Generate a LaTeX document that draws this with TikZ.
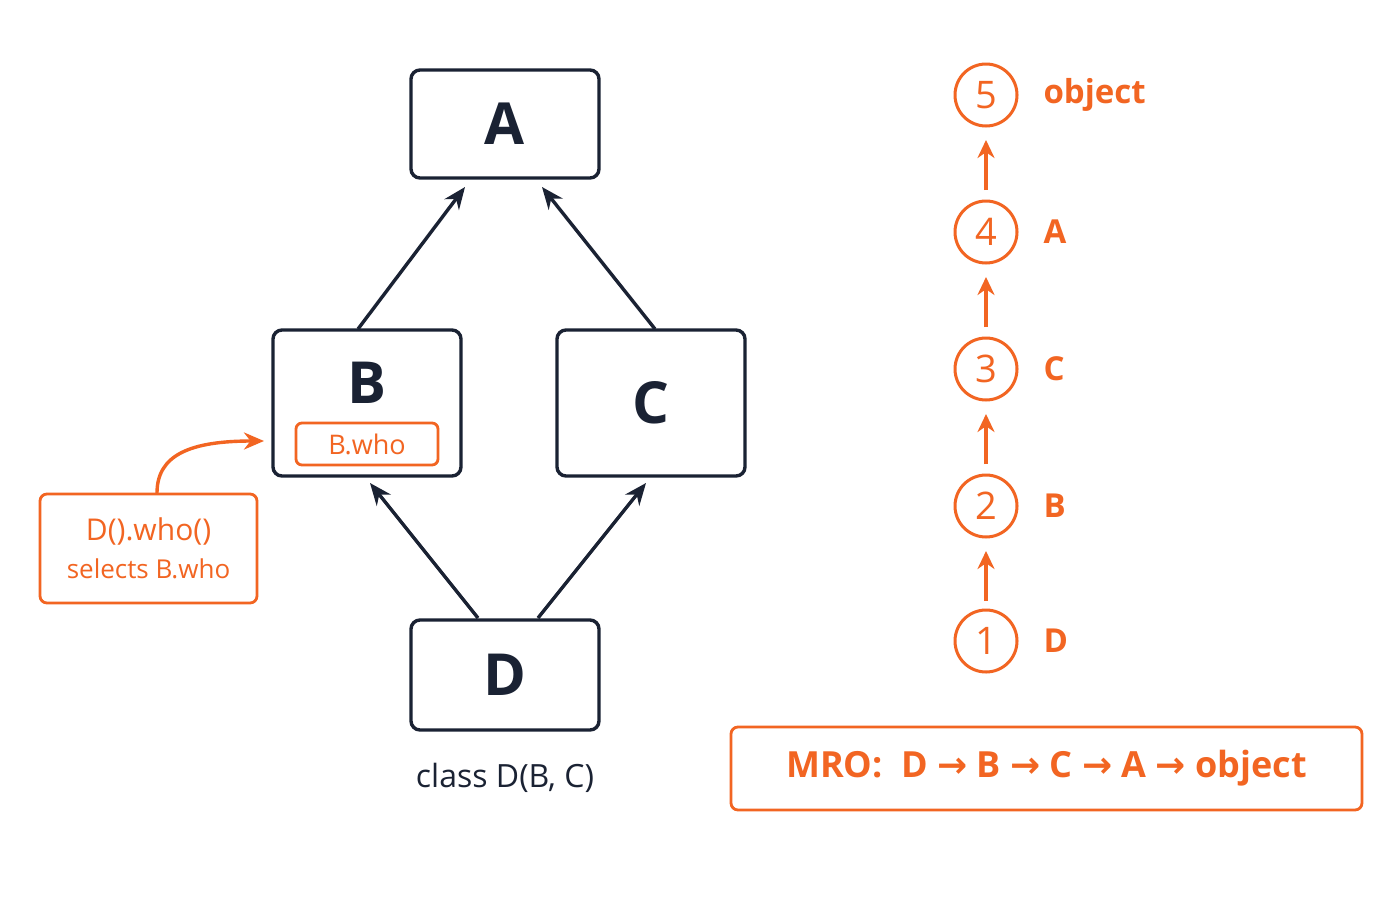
\documentclass[tikz,border=0pt]{standalone}
\usepackage{fontspec}
\setmainfont{Open Sans}
\newfontfamily\arr{DejaVu Sans}
\usetikzlibrary{arrows.meta}
\definecolor{navy}{HTML}{1A2233}
\definecolor{org}{HTML}{F26522}
\begin{document}
\begin{tikzpicture}[x=1pt,y=-1pt,
 cls/.style={draw=navy,line width=3.4pt,rounded corners=9pt,minimum width=188pt,text=navy,font=\fontsize{58}{60}\selectfont\bfseries},
 inh/.style={draw=navy,line width=3.4pt,-{Stealth[length=22pt,width=18pt]}},
 num/.style={circle,draw=org,line width=3pt,minimum size=62pt,inner sep=0pt,text=org,font=\fontsize{38}{40}\selectfont},
 lab/.style={anchor=west,text=org,font=\fontsize{33}{36}\selectfont\bfseries},
 oarr/.style={draw=org,line width=3.6pt,-{Stealth[length=18pt,width=17pt]}}]
\useasboundingbox[fill=white] (0,0) rectangle (1400,900);
\node[cls,minimum height=108pt] (A) at (505,124) {A};
\node[cls,minimum height=146pt] (B) at (367,403) {};
\node[text=navy,font=\fontsize{58}{60}\selectfont\bfseries] (Bl) at (367,383) {B};
\node[draw=org,line width=2.8pt,rounded corners=6pt,minimum width=142pt,minimum height=42pt,text=org,font=\fontsize{27}{28}\selectfont] (Bw) at (367,444) {B.who};
\node[cls,minimum height=146pt] (C) at (651,403) {C};
\node[cls,minimum height=110pt] (D) at (505,675) {D};
\node[text=navy,font=\fontsize{32}{34}\selectfont] (cl) at (505,778) {class D(B, C)};
\coordinate (bt) at (358,329); \coordinate (at1) at (465,187);
\coordinate (ct) at (655,329); \coordinate (at2) at (542,187);
\coordinate (d1) at (478,618); \coordinate (bb) at (370,483);
\coordinate (d2) at (538,618); \coordinate (cb) at (646,483);
\draw[inh] (bt) -- (at1);
\draw[inh] (ct) -- (at2);
\draw[inh] (d1) -- (bb);
\draw[inh] (d2) -- (cb);
\node[draw=org,line width=2.8pt,rounded corners=7pt,minimum width=217pt,minimum height=109pt,align=center,text=org,font=\fontsize{30}{40}\selectfont] (call) at (148.5,548.5) {D().who()\\[-2pt]{\fontsize{26}{28}\selectfont selects B.who}};
\coordinate (cs) at (157,493); \coordinate (ce) at (264,441);
\draw[draw=org,line width=3.4pt,-{Stealth[length=20pt,width=17pt]}] (cs) .. controls (157,455) and (190,441) .. (ce);
\node[num] (n5) at (986,95) {5}; \node[lab] (l5) at (1040,95) {object};
\node[num] (n4) at (986,232) {4}; \node[lab] (l4) at (1040,232) {A};
\node[num] (n3) at (986,369) {3}; \node[lab] (l3) at (1040,369) {C};
\node[num] (n2) at (986,506) {2}; \node[lab] (l2) at (1040,506) {B};
\node[num] (n1) at (986,641) {1}; \node[lab] (l1) at (1040,641) {D};
\draw[oarr] (n4) ++(0,-42) -- ++(0,-50);
\draw[oarr] (n3) ++(0,-42) -- ++(0,-50);
\draw[oarr] (n2) ++(0,-42) -- ++(0,-50);
\draw[oarr] (n1) ++(0,-40) -- ++(0,-50);
\node[draw=org,line width=2.8pt,rounded corners=7pt,minimum width=631pt,minimum height=83pt,text=org,font=\fontsize{36}{38}\selectfont\bfseries] (mro) at (1046.5,768.5) {MRO:\ \ D {\arr\bfseries→} B {\arr\bfseries→} C {\arr\bfseries→} A {\arr\bfseries→} object};
\end{tikzpicture}
\end{document}
